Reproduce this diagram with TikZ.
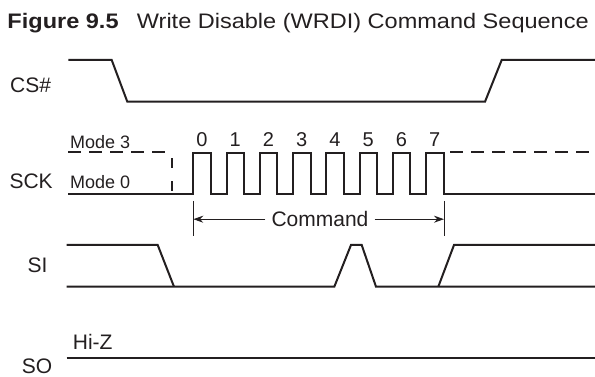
\documentclass[tikz,border=0pt]{standalone}
\usepackage{fontspec}
\usepackage{graphicx}
\setmainfont{Liberation Sans}
\usetikzlibrary{arrows.meta}
\definecolor{ink}{HTML}{231F20}
\begin{document}
\begin{tikzpicture}[x=1pt,y=-1pt,
  sig/.style={line width=2pt, line join=miter, draw=ink},
  dsh/.style={sig, dash pattern=on 13pt off 8pt},
  thin/.style={line width=1pt, draw=ink},
  arr/.style={line width=1pt, draw=ink, -{Stealth[length=10pt,width=7pt]}},
  lbl/.style={anchor=base west, inner sep=0pt, font=\fontsize{21}{21}\selectfont, text=ink},
  mode/.style={anchor=base west, inner sep=0pt, font=\fontsize{18}{18}\selectfont, text=ink},
  num/.style={anchor=base, inner sep=0pt, font=\fontsize{20}{20}\selectfont, text=ink},
  ttl/.style={anchor=base west, inner sep=0pt, font=\fontsize{21}{21}\selectfont, text=ink}]
\useasboundingbox (0,0) rectangle (595,377);

% title
\node[ttl, font=\fontsize{21}{21}\selectfont\bfseries] (tfig) at (7.3,28.3) {\scalebox{1.12}[1]{Figure 9.5}};
\node[ttl] (ttext) at (136.7,28.3) {\scalebox{1.12}[1]{Write Disable (WRDI) Command Sequence}};

% signal labels
\node[lbl] (lcs) at (10,92.7) {CS\#};
\node[lbl] (lsck) at (9.3,188.3) {SCK};
\node[lbl] (lsi) at (27.3,272.7) {SI};
\node[lbl] (lso) at (21.7,373) {SO};
\node[lbl] (lhiz) at (72.7,349.3) {Hi-Z};
\node[mode] (m3) at (70,148.3) {Mode 3};
\node[mode] (m0) at (70,188.3) {Mode 0};

% CS#
\draw[sig] (68.3,60) -- (111.7,60) -- (127.3,101.7) -- (485,101.7) -- (501.7,60) -- (596,60);

% SCK
\draw[sig] (68,194.3) \foreach \k in {0,...,7} { -- ({193.3+33.25*\k},194.3) -- ({193.3+33.25*\k},153.3) -- ({210.8+33.25*\k},153.3) -- ({210.8+33.25*\k},194.3) } -- (596,194.3);
\draw[dsh] (68.3,152.3) -- (166,152.3);
\draw[sig, dash pattern=on 10pt off 13pt] (171.7,158.3) -- (171.7,192);
\draw[dsh] (450,152.3) -- (596,152.3);
\foreach \k in {0,...,7} \node[num] (n\k) at ({202.05+33.25*\k},146.7) {\k};

% Command marker
\coordinate (mlt) at (193.3,201);
\coordinate (mlb) at (193.3,236);
\coordinate (mrt) at (444,201);
\coordinate (mrb) at (444,236);
\draw[thin] (mlt) -- (mlb);
\draw[thin] (mrt) -- (mrb);
\node[anchor=base, inner ysep=0pt, inner xsep=6pt, font=\fontsize{21}{21}\selectfont, text=ink] (cmd) at (320,226.7) {Command};
\draw[arr] (cmd.west) -- (mlt |- cmd.west);
\draw[arr] (cmd.east) -- (mrt |- cmd.east);

% SI
\draw[sig] (66.7,245) -- (157.7,245) -- (174,286.7);
\draw[sig] (66.7,286.7) -- (334.3,286.7) -- (351,245) -- (361.7,245) -- (376,286.7) -- (596,286.7);
\draw[sig] (438.3,286.7) -- (454,245) -- (596,245);

% SO
\draw[sig] (66.7,358.3) -- (596,358.3);
\end{tikzpicture}
\end{document}
